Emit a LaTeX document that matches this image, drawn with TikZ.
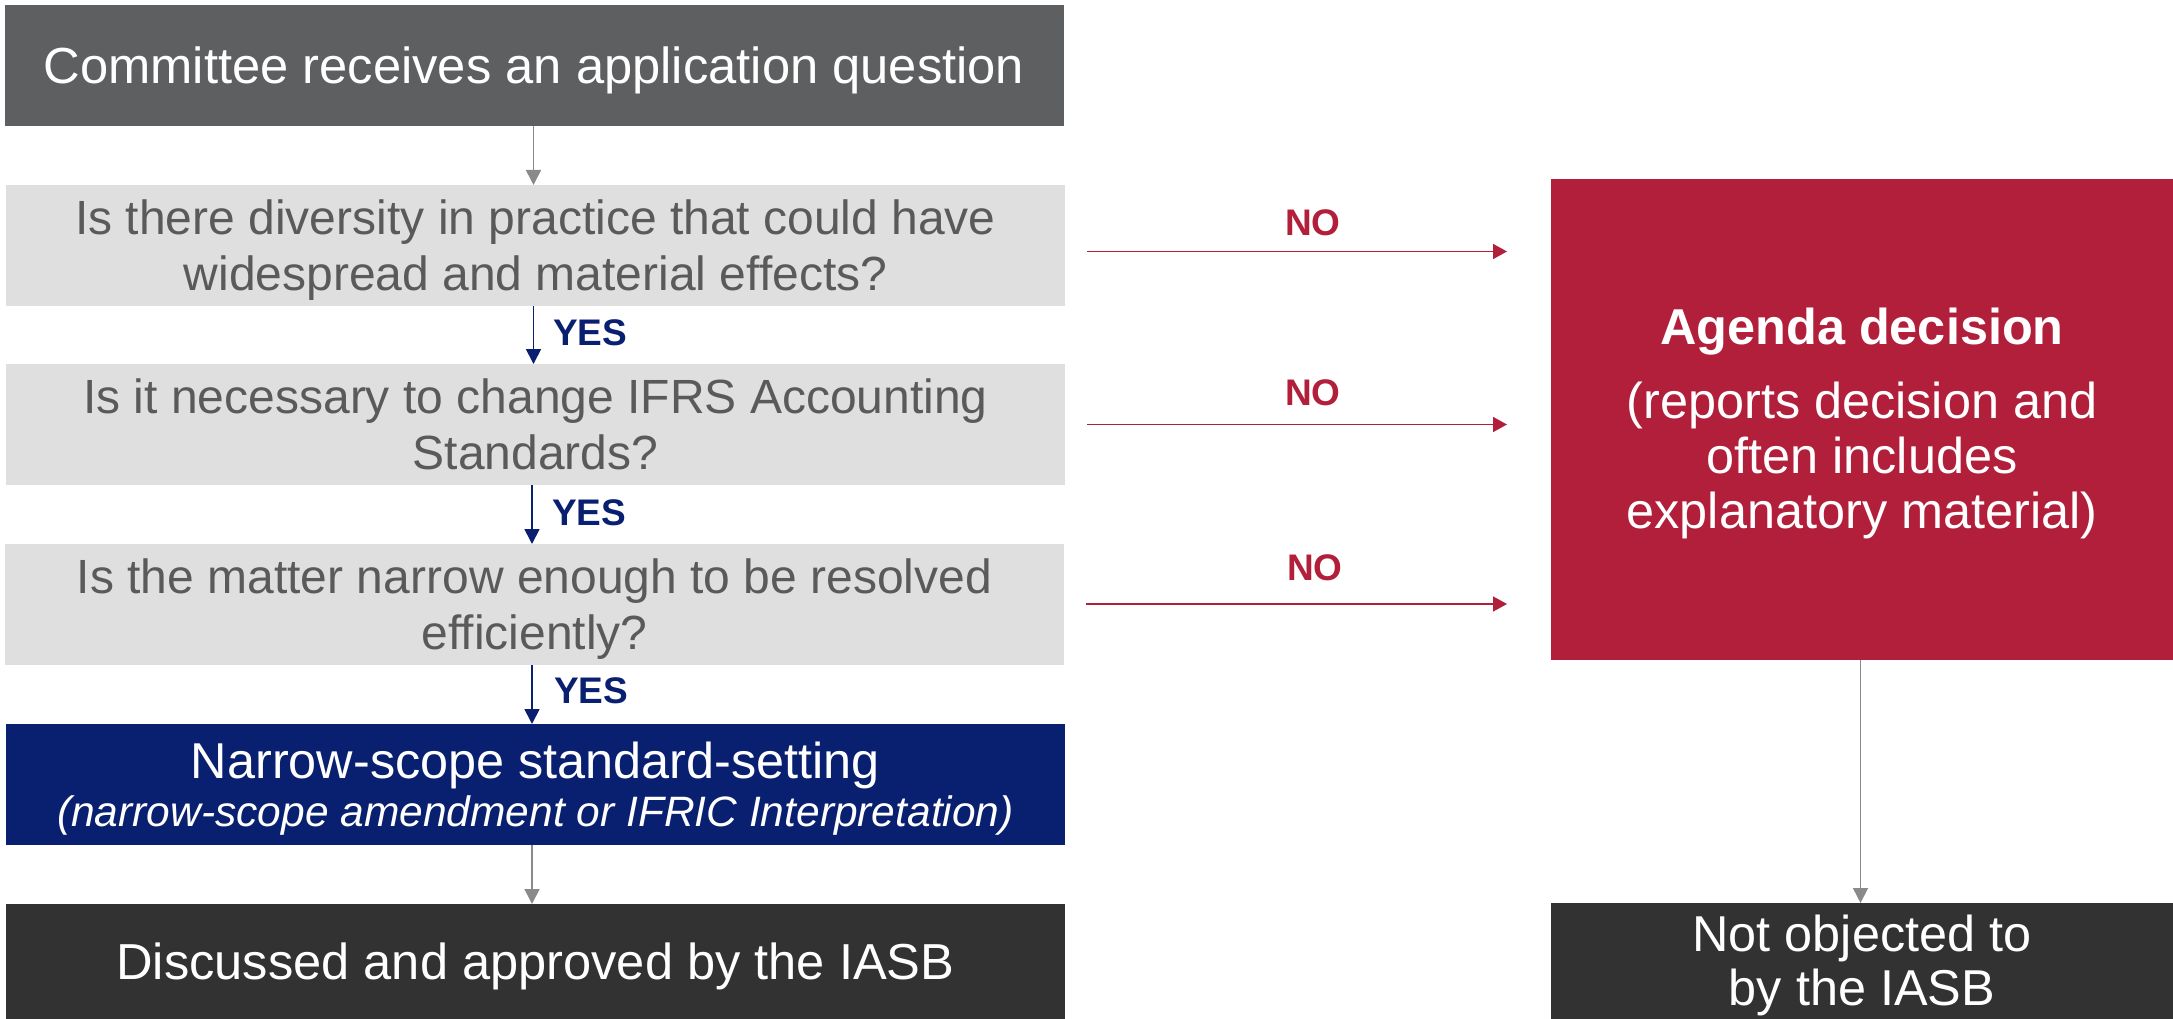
\documentclass[tikz,border=0pt]{standalone}
\usepackage{fontspec}
\setmainfont{Liberation Sans}
\usetikzlibrary{arrows.meta}

\definecolor{boxgrey}{RGB}{94,95,97}
\definecolor{qfill}{RGB}{223,223,223}
\definecolor{qtext}{RGB}{90,90,90}
\definecolor{ifrsred}{RGB}{178,31,59}
\definecolor{ifrsnavy}{RGB}{9,31,112}
\definecolor{boxdark}{RGB}{50,50,50}
\definecolor{linkgrey}{RGB}{138,138,138}

% line-box struts: ascent on the first line, descent on the last
\newcommand{\ptop}{\rule{0pt}{0.905em}}
\newcommand{\pbot}{\rule[-0.212em]{0pt}{0.212em}}

\begin{document}
\begin{tikzpicture}[x=1pt,y=-1pt,
  box/.style={rectangle, inner sep=0pt, outer sep=0pt, align=center},
  leftbox/.style={box, minimum width=1059pt, minimum height=121pt},
  qbox/.style={leftbox, fill=qfill, text=qtext, font=\fontsize{48}{56}\selectfont},
  rightbox/.style={box, minimum width=622pt},
  link/.style={draw=linkgrey, line width=1.6pt, -{Triangle[length=15pt,width=15pt]}},
  yesarrow/.style={draw=ifrsnavy, line width=1.8pt, -{Triangle[length=15pt,width=15pt]}},
  noarrow/.style={draw=ifrsred, line width=1.6pt, -{Triangle[length=14pt,width=15pt]}},
  yeslabel/.style={anchor=base west, inner sep=0pt, text=ifrsnavy, font=\bfseries\fontsize{37}{40}\selectfont},
  nolabel/.style={anchor=base, inner sep=0pt, text=ifrsred, font=\bfseries\fontsize{37}{40}\selectfont}
]
\useasboundingbox (0,0) rectangle (2173,1019);

% left column
\node[leftbox, fill=boxgrey, text=white, font=\fontsize{50.7}{56}\selectfont]
  (start) at (534,65.5) {\ptop Committee receives an application question\pbot};
\node[qbox] (q1) at (535.5,245.5)
  {\ptop Is there diversity in practice that could have\\ widespread and material effects?\pbot};
\node[qbox] (q2) at (535.5,424.5)
  {\ptop Is it necessary to change IFRS Accounting\\ Standards?\pbot};
\node[qbox] (q3) at (534.5,604.5)
  {\ptop Is the matter narrow enough to be resolved\\ efficiently?\pbot};
\node[leftbox, fill=ifrsnavy, text=white, font=\fontsize{50.4}{47.7}\selectfont]
  (nss) at (535.5,784.5)
  {\ptop Narrow-scope standard-setting\\
   {\fontsize{42.5}{47.7}\selectfont\itshape (narrow-scope amendment or IFRIC Interpretation)\pbot}};
\node[box, minimum width=1059pt, minimum height=115pt, fill=boxdark, text=white,
  font=\fontsize{50.6}{56}\selectfont]
  (iasbL) at (535.5,961.5) {\ptop Discussed and approved by the IASB\pbot};

% right column
\node[rightbox, minimum height=481pt, fill=ifrsred, text=white, font=\fontsize{50.4}{55}\selectfont]
  (agenda) at (1862,419.5)
  {\ptop\textbf{Agenda decision}\\[19pt] (reports decision and\\ often includes\\ explanatory material)\pbot};
\node[rightbox, minimum height=116pt, fill=boxdark, text=white, font=\fontsize{50.4}{53.3}\selectfont]
  (iasbR) at (1862,961) {\ptop Not objected to\\ by the IASB\pbot};

% vertical flow
\draw[link] ([xshift=-0.5pt]start.south) -- ([xshift=-0.5pt]start.south |- q1.north);
\draw[yesarrow] ([xshift=-2pt]q1.south) -- ([xshift=-2pt]q1.south |- q2.north);
\draw[yesarrow] ([xshift=-3.5pt]q2.south) -- ([xshift=-3.5pt]q2.south |- q3.north);
\draw[yesarrow] ([xshift=-2.5pt]q3.south) -- ([xshift=-2.5pt]q3.south |- nss.north);
\draw[link] ([xshift=-3.5pt]nss.south) -- ([xshift=-3.5pt]nss.south |- iasbL.north);
\draw[link] ([xshift=-1.5pt]agenda.south) -- ([xshift=-1.5pt]agenda.south |- iasbR.north);

\node[yeslabel] (yes1) at (553,345) {YES};
\node[yeslabel] (yes2) at (552,525) {YES};
\node[yeslabel] (yes3) at (554,703) {YES};

% NO branches
\coordinate (noend) at ([xshift=-44pt]agenda.west);
\draw[noarrow] ([shift={(22,6)}]q1.east) coordinate (no1s) -- (noend |- no1s);
\draw[noarrow] ([shift={(22,0)}]q2.east) coordinate (no2s) -- (noend |- no2s);
\draw[noarrow] ([shift={(22,-0.5)}]q3.east) coordinate (no3s) -- (noend |- no3s);

\node[nolabel] (no1) at (1313,235) {NO};
\node[nolabel] (no2) at (1313,405) {NO};
\node[nolabel] (no3) at (1315,580.7) {NO};
\end{tikzpicture}
\end{document}
